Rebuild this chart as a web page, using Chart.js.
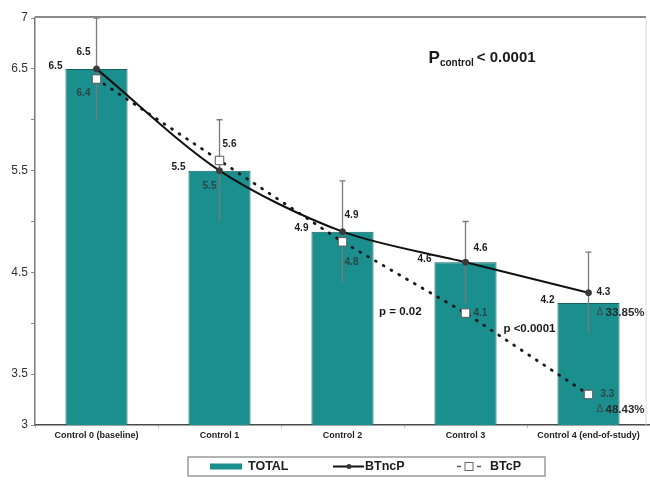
<!DOCTYPE html>
<html>
<head>
<meta charset="utf-8">
<script src="https://cdn.jsdelivr.net/npm/chart.js@4"></script>
<style>
  html, body { margin: 0; padding: 0; background: #fff; }
  #wrap { width: 650px; height: 485px; }
</style>
</head>
<body>
<div id="wrap"><canvas id="c" width="650" height="485"></canvas></div>
<script>
// Study visits
const categories = ['Control 0 (baseline)', 'Control 1', 'Control 2', 'Control 3', 'Control 4 (end-of-study)'];
// Mean values per visit
const totalValues = [6.5, 5.5, 4.9, 4.6, 4.2];
const btncpValues = [6.5, 5.5, 4.9, 4.6, 4.3];
const btcpValues  = [6.4, 5.6, 4.8, 4.1, 3.3];
// Spread around the BTncP means
const btncpError  = [0.5, 0.5, 0.5, 0.4, 0.4];
// Reduction from baseline to end of study, as reported
const deltaLabels = ['33.85%', '48.43%'];
// Labelled y ticks
const yTickLabels = [3, 3.5, 4.5, 5.5, 6.5, 7];

const FONT = '"Liberation Sans", Arial, sans-serif';
const TEAL = '#1a8f8e';
const DARK = '#1d1d1d';

// Where each value label sits relative to its mark (pixels)
const btncpLabelPos = [
  { dx: -13, dy: -17, align: 'center', color: DARK },
  { dx: -10, dy: 16, align: 'center', color: '#2b4747' },
  { dx: 9, dy: -16, align: 'center', color: DARK },
  { dx: 15, dy: -14, align: 'center', color: DARK },
  { dx: 8, dy: 0, align: 'left', color: DARK }
];
const btcpLabelPos = [
  { dx: -13, dy: 14, align: 'center', color: '#2b4747' },
  { dx: 10, dy: -16, align: 'center', color: DARK },
  { dx: 9, dy: 20, align: 'center', color: '#2b4747' },
  { dx: 8, dy: 0, align: 'left', color: '#2b4747' },
  { dx: 12, dy: 0, align: 'left', color: '#2b4747' }
];

const errorBars = {
  id: 'errorBars',
  afterDatasetDraw(chart, args) {
    if (args.index !== 0) return;
    const { ctx, scales: { x, y } } = chart;
    ctx.save();
    ctx.strokeStyle = '#7a7a7a';
    ctx.lineWidth = 1.3;
    btncpValues.forEach((v, i) => {
      const px = x.getPixelForValue(i);
      const top = y.getPixelForValue(v + btncpError[i]);
      const bot = y.getPixelForValue(v - btncpError[i]);
      ctx.beginPath();
      ctx.moveTo(px, top); ctx.lineTo(px, bot);
      ctx.moveTo(px - 3, top); ctx.lineTo(px + 3, top);
      ctx.stroke();
    });
    ctx.restore();
  }
};

const annotations = {
  id: 'annotations',
  afterDraw(chart) {
    const { ctx, chartArea: ca, scales: { x, y } } = chart;
    ctx.save();

    // frame: top and right edges of the plot
    ctx.strokeStyle = '#8a8a8a';
    ctx.lineWidth = 2;
    ctx.beginPath();
    ctx.moveTo(ca.left, ca.top - 1); ctx.lineTo(ca.right - 4, ca.top - 1);
    ctx.stroke();
    ctx.strokeStyle = '#d8d8d8';
    ctx.lineWidth = 1;
    ctx.beginPath();
    ctx.moveTo(ca.right - 4, ca.top); ctx.lineTo(ca.right - 4, ca.bottom);
    ctx.stroke();

    ctx.textBaseline = 'middle';
    ctx.font = 'bold 10px ' + FONT;

    // bar value labels, left of each bar top
    const barMeta = chart.getDatasetMeta(0);
    totalValues.forEach((v, i) => {
      const bar = barMeta.data[i];
      const left = bar.x - bar.width / 2;
      ctx.fillStyle = DARK;
      ctx.textAlign = 'right';
      ctx.fillText(v.toFixed(1), left - 3, y.getPixelForValue(v) - 3);
    });

    // line value labels
    const drawLineLabels = (vals, pos) => {
      vals.forEach((v, i) => {
        const p = pos[i];
        ctx.fillStyle = p.color;
        ctx.textAlign = p.align;
        ctx.fillText(v.toFixed(1), x.getPixelForValue(i) + p.dx, y.getPixelForValue(v) + p.dy);
      });
    };
    drawLineLabels(btncpValues, btncpLabelPos);
    drawLineLabels(btcpValues, btcpLabelPos);

    // relative change from baseline to end of study
    const last = categories.length - 1;
    const drawDelta = (txt, px, py) => {
      ctx.textAlign = 'left';
      ctx.fillStyle = '#444';
      ctx.font = '10px ' + FONT;
      ctx.fillText('\u0394', px, py);
      ctx.fillStyle = '#2a2a2a';
      ctx.font = 'bold 11.5px ' + FONT;
      ctx.fillText(txt, px + 9, py);
    };
    drawDelta(deltaLabels[0], x.getPixelForValue(last) + 8, y.getPixelForValue(btncpValues[last]) + 20);
    drawDelta(deltaLabels[1], x.getPixelForValue(last) + 8, y.getPixelForValue(btcpValues[last]) + 15);

    // significance notes
    ctx.font = 'bold 11.5px ' + FONT;
    ctx.fillStyle = '#1a1a1a';
    ctx.textAlign = 'center';
    ctx.fillText('p = 0.02', x.getPixelForValue(2.47), y.getPixelForValue(4.11));
    ctx.fillText('p <0.0001', x.getPixelForValue(3.52), y.getPixelForValue(3.95));

    // overall p-value
    let px = x.getPixelForValue(2.7);
    const py = y.getPixelForValue(6.62);
    ctx.textAlign = 'left';
    ctx.textBaseline = 'alphabetic';
    ctx.font = 'bold 17px ' + FONT;
    ctx.fillText('P', px, py + 6);
    px += ctx.measureText('P').width;
    ctx.font = 'bold 10px ' + FONT;
    ctx.fillText('control', px, py + 9);
    px += ctx.measureText('control').width + 3;
    ctx.font = 'bold 15px ' + FONT;
    ctx.fillText('< 0.0001', px, py + 5);

    // legend
    const lx = 188, ly = 457, lw = 357, lh = 19;
    ctx.strokeStyle = '#9a9a9a';
    ctx.lineWidth = 1.5;
    ctx.strokeRect(lx, ly, lw, lh);
    const cy = ly + lh / 2;
    ctx.textBaseline = 'middle';
    ctx.font = 'bold 12.5px ' + FONT;
    const ds = chart.data.datasets;
    // bar swatch
    ctx.fillStyle = TEAL;
    ctx.fillRect(lx + 22, cy - 3, 32, 6);
    ctx.fillStyle = DARK;
    ctx.fillText(ds[0].label, lx + 60, cy);
    // solid line with dot
    ctx.strokeStyle = '#111';
    ctx.lineWidth = 2;
    ctx.beginPath();
    ctx.moveTo(lx + 145, cy); ctx.lineTo(lx + 176, cy);
    ctx.stroke();
    ctx.fillStyle = '#333';
    ctx.beginPath(); ctx.arc(lx + 161, cy, 2.5, 0, Math.PI * 2); ctx.fill();
    ctx.fillStyle = DARK;
    ctx.fillText(ds[1].label, lx + 177, cy);
    // dotted line with square
    ctx.strokeStyle = '#555';
    ctx.lineWidth = 1.5;
    ctx.beginPath();
    ctx.moveTo(lx + 269, cy); ctx.lineTo(lx + 273, cy);
    ctx.moveTo(lx + 289, cy); ctx.lineTo(lx + 293, cy);
    ctx.stroke();
    ctx.fillStyle = '#fff';
    ctx.strokeStyle = '#666';
    ctx.lineWidth = 1;
    ctx.fillRect(lx + 277, cy - 4, 8, 8);
    ctx.strokeRect(lx + 277, cy - 4, 8, 8);
    ctx.fillStyle = DARK;
    ctx.fillText(ds[2].label, lx + 302, cy);

    ctx.restore();
  }
};

new Chart(document.getElementById('c'), {
  data: {
    labels: categories,
    datasets: [
      {
        type: 'bar',
        label: 'TOTAL',
        data: totalValues,
        backgroundColor: TEAL,
        borderColor: '#12625f',
        borderWidth: 1,
        barPercentage: 0.505,
        categoryPercentage: 1.0,
        order: 3
      },
      {
        type: 'line',
        label: 'BTncP',
        data: btncpValues,
        borderColor: '#111',
        borderWidth: 2,
        tension: 0.3,
        pointRadius: 3,
        pointBackgroundColor: '#3a3a3a',
        pointBorderColor: '#3a3a3a',
        pointBorderWidth: 1,
        order: 1
      },
      {
        type: 'line',
        label: 'BTcP',
        data: btcpValues,
        borderColor: '#1a1a1a',
        borderWidth: 2.8,
        borderDash: [1, 8],
        borderCapStyle: 'round',
        tension: 0,
        pointStyle: 'rect',
        pointRadius: 6,
        pointBackgroundColor: '#ffffff',
        pointBorderColor: '#555',
        pointBorderWidth: 1,
        order: 2
      }
    ]
  },
  options: {
    responsive: false,
    animation: false,
    layout: { autoPadding: false, padding: { top: 18, right: 0, left: 0, bottom: 40 } },
    plugins: {
      legend: { display: false },
      tooltip: { enabled: false }
    },
    scales: {
      x: {
        offset: true,
        grid: { display: true, drawOnChartArea: false, offset: true, tickLength: 3, color: '#bbb' },
        border: { color: '#4a4a4a', width: 1.5 },
        ticks: {
          font: { family: FONT, size: 9, weight: 'bold' },
          color: '#222',
          padding: 2,
          maxRotation: 0,
          autoSkip: false
        },
        afterFit(scale) {
          scale.height = 20;
          scale.paddingLeft = 0;
          scale.paddingRight = 0;
        }
      },
      y: {
        min: 3,
        max: 7,
        grid: { display: true, drawOnChartArea: false, tickLength: 4, color: '#888' },
        border: { color: '#7a7a7a', width: 1.5 },
        ticks: {
          stepSize: 0.5,
          autoSkip: false,
          padding: 3,
          font: { family: FONT, size: 12 },
          color: '#333',
          callback: (v) => yTickLabels.includes(v) ? String(v) : ''
        },
        afterFit(scale) { scale.width = 35; }
      }
    }
  },
  plugins: [errorBars, annotations]
});
</script>
</body>
</html>
